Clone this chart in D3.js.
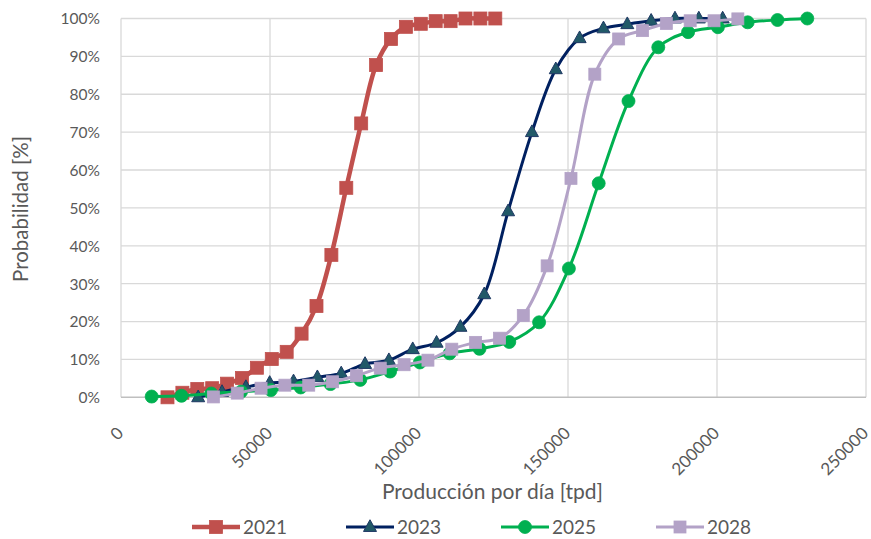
<!DOCTYPE html>
<html>
<head>
<meta charset="utf-8">
<script src="https://cdn.jsdelivr.net/npm/d3@7/dist/d3.min.js"></script>
<style>
  html, body { margin: 0; padding: 0; background: #ffffff; }
  svg text { font-family: Lato, "Open Sans", sans-serif; fill: #595959; }
</style>
</head>
<body>
<svg id="chart" width="871" height="539"></svg>
<script>
// Production per day (tpd) and cumulative probability (%) for each year
const x2021 = [15600, 20600, 25600, 30600, 35600, 40600, 45600, 50600, 55600, 60600, 65600, 70600, 75600, 80600, 85600, 90600, 95600, 100600, 105600, 110600, 115600, 120600, 125600];
const y2021 = [0, 1.2, 2.2, 2.4, 3.6, 5.1, 7.8, 10.1, 12.0, 16.8, 24.1, 37.6, 55.3, 72.3, 87.7, 94.6, 97.8, 98.6, 99.3, 99.3, 100, 100, 100];

const x2023 = [25900, 33900, 41900, 49900, 57900, 65900, 73900, 81900, 89900, 97900, 105900, 113900, 121900, 129900, 137900, 145900, 153900, 161900, 169900, 177900, 185900, 193900, 201900];
const y2023 = [0, 1.4, 2.7, 3.8, 4.2, 5.3, 6.3, 8.8, 9.8, 12.7, 14.4, 18.6, 27.2, 49.1, 70.0, 86.6, 94.8, 97.4, 98.5, 99.4, 100, 100, 100];

const x2025 = [10300, 20300, 30300, 40300, 50300, 60300, 70300, 80300, 90300, 100300, 110300, 120300, 130300, 140300, 150300, 160300, 170300, 180300, 190300, 200300, 210300, 220300, 230300];
const y2025 = [0.2, 0.4, 1.0, 1.5, 1.9, 2.6, 3.5, 4.6, 6.8, 9.2, 11.6, 12.8, 14.6, 19.8, 34.0, 56.5, 78.2, 92.4, 96.4, 97.7, 99.0, 99.6, 100];

const x2028 = [31000, 39000, 47000, 55000, 63000, 71000, 79000, 87000, 95000, 103000, 111000, 119000, 127000, 135000, 143000, 151000, 159000, 167000, 175000, 183000, 191000, 199000, 207000];
const y2028 = [0.1, 1.1, 2.4, 3.2, 3.2, 4.1, 5.7, 7.7, 8.6, 9.8, 12.7, 14.5, 15.6, 21.6, 34.7, 57.8, 85.3, 94.6, 96.8, 98.7, 99.4, 99.4, 99.9];

const seriesNames = ["2021", "2023", "2025", "2028"];
const xTicks = [0, 50000, 100000, 150000, 200000, 250000];
const yTicks = [0, 10, 20, 30, 40, 50, 60, 70, 80, 90, 100];

const series = [
  { name: seriesNames[0], xs: x2021, ys: y2021, line: "#C0504D", fill: "#C0504D", stroke: "#C0504D", marker: "square", width: 4.5, size: 13 },
  { name: seriesNames[1], xs: x2023, ys: y2023, line: "#002060", fill: "#215968", stroke: "#1F3864", marker: "triangle", width: 3, size: 13 },
  { name: seriesNames[2], xs: x2025, ys: y2025, line: "#00B050", fill: "#00B050", stroke: "#00B050", marker: "circle", width: 3, size: 13 },
  { name: seriesNames[3], xs: x2028, ys: y2028, line: "#B3A2C7", fill: "#B3A2C7", stroke: "#B3A2C7", marker: "square", width: 3, size: 12 }
];

const svg = d3.select("#chart");
const plot = { left: 121, right: 866, top: 18.5, bottom: 397.3 };

const x = d3.scaleLinear().domain([0, 250000]).range([plot.left, plot.right]);
const y = d3.scaleLinear().domain([0, 100]).range([plot.bottom, plot.top]);

// gridlines
const grid = svg.append("g");
grid.selectAll("line.h").data(yTicks.slice(1)).join("line")
  .attr("x1", plot.left).attr("x2", plot.right)
  .attr("y1", d => y(d)).attr("y2", d => y(d))
  .attr("stroke", "#D9D9D9").attr("stroke-width", 1.3);
grid.selectAll("line.v").data(xTicks.slice(1)).join("line")
  .attr("x1", d => x(d)).attr("x2", d => x(d))
  .attr("y1", plot.top).attr("y2", plot.bottom)
  .attr("stroke", "#D9D9D9").attr("stroke-width", 1.3);

// axes lines
svg.append("line").attr("x1", plot.left).attr("x2", plot.left).attr("y1", plot.top).attr("y2", plot.bottom)
  .attr("stroke", "#D9D9D9").attr("stroke-width", 1.3);
svg.append("line").attr("x1", plot.left).attr("x2", plot.right).attr("y1", plot.bottom).attr("y2", plot.bottom)
  .attr("stroke", "#BFBFBF").attr("stroke-width", 1.5);

// y tick labels
const yAxis = d3.axisLeft(y).tickValues(yTicks).tickFormat(d => d + "%").tickSize(0).tickPadding(21);
const gy = svg.append("g").attr("transform", `translate(${plot.left},0)`).call(yAxis);
gy.select(".domain").remove();
gy.selectAll("text").style("font-size", "15.5px").attr("dy", "0.35em");

// x tick labels, rotated
const xAxis = d3.axisBottom(x).tickValues(xTicks).tickFormat(d3.format("d")).tickSize(0);
const gx = svg.append("g").attr("transform", `translate(0,${plot.bottom})`).call(xAxis);
gx.select(".domain").remove();
gx.selectAll("text")
  .style("font-size", "17px")
  .attr("text-anchor", "end")
  .attr("dy", null).attr("y", 0)
  .attr("transform", "translate(3,37) rotate(-45)");

// axis titles
svg.append("text").attr("x", (plot.left + plot.right) / 2 - 1).attr("y", 499)
  .attr("text-anchor", "middle").style("font-size", "21px").text("Producción por día [tpd]");
svg.append("text").attr("transform", "translate(28,209) rotate(-90)")
  .attr("text-anchor", "middle").style("font-size", "20.5px").text("Probabilidad [%]");

// lines and markers
const lineGen = d3.line().curve(d3.curveCatmullRom.alpha(0.5));

function drawMarker(g, type, cx, cy, s, fill, stroke) {
  if (type === "square") {
    g.append("rect").attr("x", cx - s / 2).attr("y", cy - s / 2).attr("width", s).attr("height", s)
      .attr("fill", fill).attr("stroke", stroke).attr("stroke-width", 0.8);
  } else if (type === "circle") {
    g.append("circle").attr("cx", cx).attr("cy", cy).attr("r", s / 2)
      .attr("fill", fill).attr("stroke", stroke).attr("stroke-width", 0.8);
  } else {
    const h = s * 0.9;
    g.append("path")
      .attr("d", `M${cx},${cy - h * 0.62}L${cx + s / 2},${cy + h * 0.38}L${cx - s / 2},${cy + h * 0.38}Z`)
      .attr("fill", fill).attr("stroke", stroke).attr("stroke-width", 1);
  }
}

series.forEach(s => {
  const pts = s.xs.map((v, i) => [x(v), y(s.ys[i])]);
  const g = svg.append("g");
  g.append("path").attr("d", lineGen(pts)).attr("fill", "none")
    .attr("stroke", s.line).attr("stroke-width", s.width).attr("stroke-linejoin", "round");
  pts.forEach(p => drawMarker(g, s.marker, p[0], p[1], s.size, s.fill, s.stroke));
});

// legend
const legendX = [192, 346, 501, 656];
series.forEach((s, i) => {
  const g = svg.append("g").attr("transform", `translate(${legendX[i]},527)`);
  g.append("line").attr("x1", 0).attr("x2", 48).attr("y1", 0).attr("y2", 0)
    .attr("stroke", s.line).attr("stroke-width", s.width);
  drawMarker(g, s.marker, 24, 0, s.size, s.fill, s.stroke);
  g.append("text").attr("x", 51).attr("y", 0).attr("dy", "0.35em")
    .style("font-size", "19px").text(s.name);
});
</script>
</body>
</html>
